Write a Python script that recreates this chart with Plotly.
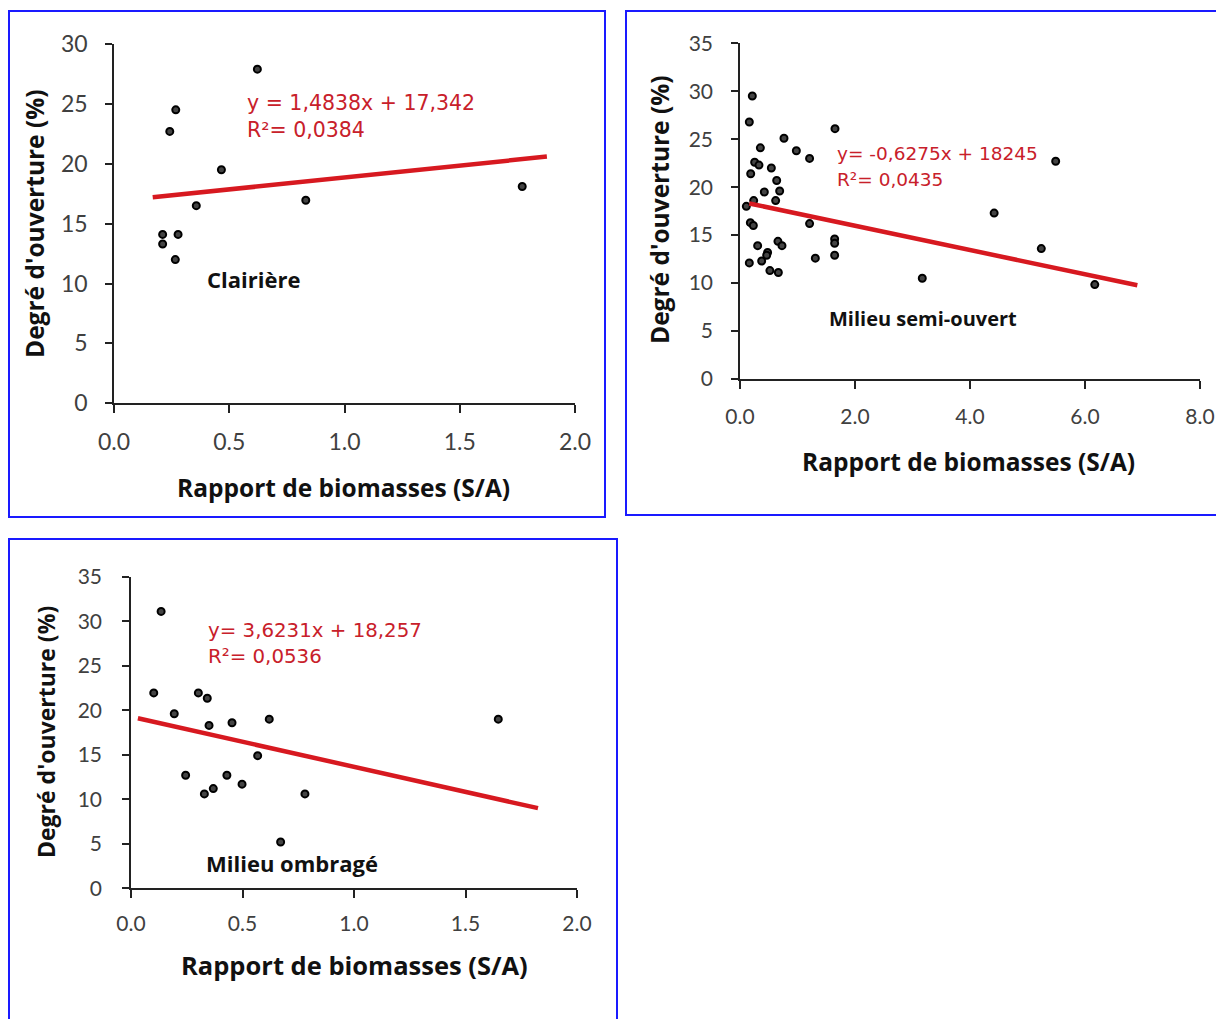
import plotly.graph_objects as go

W, H = 1216, 1019

# ---- data ----
clair_x = [0.622, 0.268, 0.242, 0.466, 0.357, 0.832, 1.771, 0.211, 0.278, 0.211, 0.266]
clair_y = [27.9, 24.5, 22.7, 19.5, 16.5, 16.95, 18.1, 14.1, 14.1, 13.3, 12.0]
clair_fit_x = [0.168, 1.878]
clair_fit_y = [17.2, 20.6]

semi_x = [0.214, 0.162, 1.652, 0.765, 0.354, 0.98, 1.21, 5.49, 0.255, 0.33, 0.545, 0.186,
          0.638, 0.69, 0.423, 0.62, 0.238, 0.11, 4.42, 0.18, 0.232, 1.21, 1.646, 1.646,
          0.66, 0.73, 0.307, 5.24, 0.48, 0.464, 1.646, 1.31, 0.162, 0.377, 0.52, 0.667,
          3.17, 6.17]
semi_y = [29.5, 26.8, 26.1, 25.1, 24.1, 23.8, 23.0, 22.7, 22.6, 22.3, 22.0, 21.4,
          20.7, 19.6, 19.5, 18.6, 18.6, 18.0, 17.3, 16.3, 16.0, 16.2, 14.6, 14.15,
          14.35, 13.9, 13.9, 13.6, 13.2, 12.9, 12.9, 12.6, 12.1, 12.3, 11.3, 11.1,
          10.5, 9.84]
semi_fit_x = [0.162, 6.91]
semi_fit_y = [18.3, 9.77]

omb_x = [0.135, 0.102, 0.302, 0.342, 0.194, 0.35, 0.453, 0.62, 1.647, 0.568, 0.245,
         0.43, 0.498, 0.369, 0.329, 0.78, 0.671]
omb_y = [31.1, 21.95, 21.95, 21.35, 19.6, 18.3, 18.6, 19.0, 19.0, 14.9, 12.7,
         12.7, 11.7, 11.2, 10.6, 10.6, 5.2]
omb_fit_x = [0.031, 1.825]
omb_fit_y = [19.1, 9.0]

x_title = "Rapport de biomasses (S/A)"
y_title = "Degré d'ouverture (%)"
eq1 = ["y = 1,4838x + 17,342", "R²= 0,0384"]
eq2 = ["y= -0,6275x + 18245", "R²= 0,0435"]
eq3 = ["y= 3,6231x + 18,257", "R²= 0,0536"]
labels = ["Clairière", "Milieu semi-ouvert", "Milieu ombragé"]


def fx(p):
    return p / W


def fy(p):
    return 1 - p / H


fig = go.Figure()

marker = dict(size=7, color="#444444", line=dict(color="#000000", width=2))
line_style = dict(color="#d71920", width=4.5)

series = [
    (clair_x, clair_y, clair_fit_x, clair_fit_y, "x", "y"),
    (semi_x, semi_y, semi_fit_x, semi_fit_y, "x2", "y2"),
    (omb_x, omb_y, omb_fit_x, omb_fit_y, "x3", "y3"),
]
for sx, sy, fxs, fys, xa, ya in series:
    fig.add_trace(go.Scatter(x=sx, y=sy, mode="markers", marker=marker,
                             xaxis=xa, yaxis=ya, showlegend=False, cliponaxis=False))
    fig.add_trace(go.Scatter(x=fxs, y=fys, mode="lines", line=line_style,
                             xaxis=xa, yaxis=ya, showlegend=False, cliponaxis=False))

tickfont_big = dict(family="Lato", size=23, color="#404040")
tickfont_small = dict(family="Lato", size=21, color="#404040")


def axis(domain, rng, dtick, fmt, anchor, font, standoff, ticklen):
    return dict(domain=domain, range=rng, dtick=dtick, tick0=0, tickformat=fmt,
                anchor=anchor, showgrid=False, zeroline=False, showline=True,
                linecolor="#222222", linewidth=1.5, ticks="outside", ticklen=ticklen,
                tickwidth=1.5, tickcolor="#222222", tickfont=font, automargin=False,
                ticklabelstandoff=standoff, fixedrange=True)


fig.update_layout(
    width=W, height=H, margin=dict(l=0, r=0, t=0, b=0, pad=0, autoexpand=False),
    paper_bgcolor="white", plot_bgcolor="white", showlegend=False,
    xaxis=axis([fx(114), fx(575)], [0, 2], 0.5, ".1f", "y", tickfont_big, 9, 8),
    yaxis=axis([fy(403.3), fy(44)], [0, 30], 5, "d", "x", tickfont_big, 13, 7),
    xaxis2=axis([fx(740), fx(1200)], [0, 8], 2, ".1f", "y2", tickfont_small, 10, 8),
    yaxis2=axis([fy(379), fy(43.3)], [0, 35], 5, "d", "x2", tickfont_small, 14, 7),
    xaxis3=axis([fx(131), fx(577)], [0, 2], 0.5, ".1f", "y3", tickfont_small, 8, 8),
    yaxis3=axis([fy(888.3), fy(576.7)], [0, 35], 5, "d", "x3", tickfont_small, 16, 7),
)

# panel borders
border = dict(color="#1a1aff", width=2)
for x0, y0, x1, y1 in [(9, 11, 605, 517), (626, 11, 1230, 515), (9, 539, 617, 1030)]:
    fig.add_shape(type="rect", xref="paper", yref="paper",
                  x0=fx(x0), x1=fx(x1), y0=fy(y1), y1=fy(y0), line=border,
                  fillcolor="rgba(0,0,0,0)", layer="above")

ann = []
# axis titles
for cx, cy, sz in [(343, 487, 24.5), (968, 461, 24.5), (354, 965, 25.5)]:
    ann.append(dict(text="<b>" + x_title + "</b>", x=fx(cx), y=fy(cy), xref="paper",
                    yref="paper", showarrow=False, xanchor="center", yanchor="middle",
                    font=dict(family="Open Sans", size=sz, color="#111111")))
for cx, cy, sz in [(34, 224, 24.5), (659, 210, 24.5), (46, 732, 23)]:
    ann.append(dict(text="<b>" + y_title + "</b>", x=fx(cx), y=fy(cy), xref="paper",
                    yref="paper", showarrow=False, xanchor="center", yanchor="middle",
                    textangle=-90,
                    font=dict(family="Open Sans", size=sz, color="#111111")))
# equations
for eq, lx, ly, sz, gap in [(eq1, 245, 103, 20.5, 27), (eq2, 835, 154, 18.5, 25),
                            (eq3, 206, 630, 19.8, 26)]:
    f = dict(family="DejaVu Sans", size=sz, color="#c8202a")
    ann.append(dict(text=eq[0], x=fx(lx), y=fy(ly), xref="paper", yref="paper",
                    showarrow=False, xanchor="left", yanchor="middle", font=f))
    ann.append(dict(text=eq[1], x=fx(lx), y=fy(ly + gap), xref="paper", yref="paper",
                    showarrow=False, xanchor="left", yanchor="middle", font=f))
# panel labels
for txt, lx, ly, sz in [(labels[0], 205, 279, 22), (labels[1], 827, 318, 20),
                        (labels[2], 204, 863, 22)]:
    ann.append(dict(text="<b>" + txt + "</b>", x=fx(lx), y=fy(ly), xref="paper",
                    yref="paper", showarrow=False, xanchor="left", yanchor="middle",
                    font=dict(family="Open Sans", size=sz, color="#111111")))

fig.update_layout(annotations=ann)

fig.write_html(
    "out.html",
    config={"displayModeBar": False},
    post_script="document.body.style.margin='0';document.body.style.overflow='hidden';",
)
